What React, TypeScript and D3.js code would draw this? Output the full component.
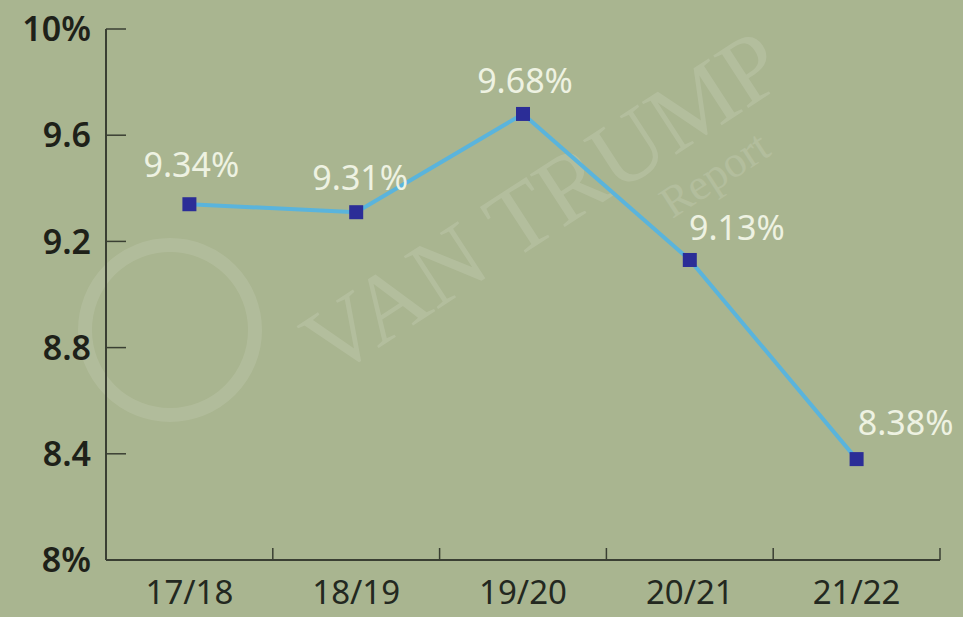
import * as d3 from 'd3';
import React, { useEffect, useRef } from 'react';

const seasons = ['17/18', '18/19', '19/20', '20/21', '21/22'];
const values = [9.34, 9.31, 9.68, 9.13, 8.38];
const yTicks = [8, 8.4, 8.8, 9.2, 9.6, 10];
const yTickLabels = ['8%', '8.4', '8.8', '9.2', '9.6', '10%'];

const W = 963;
const H = 617;

const App = () => {
  const svgRef = useRef(null);

  useEffect(() => {
    document.body.style.margin = '0';
    const svg = d3.select(svgRef.current);
    svg.selectAll('*').remove();

    const x = d3.scaleBand().domain(seasons).range([106, 940]);
    const y = d3.scaleLinear().domain([8, 10]).range([560, 29]);

    svg.append('rect').attr('width', W).attr('height', H).attr('fill', '#a9b590');

    // faint watermark
    const wm = svg.append('g').attr('transform', 'translate(560,230) rotate(-33)').attr('opacity', 0.12);
    wm.append('text').attr('text-anchor', 'middle').attr('font-family', 'Liberation Serif')
      .attr('font-size', 96).attr('fill', '#ffffff').text('VAN TRUMP');
    wm.append('text').attr('x', 160).attr('y', 52).attr('text-anchor', 'middle')
      .attr('font-family', 'Liberation Serif').attr('font-size', 44).attr('fill', '#ffffff').text('Report');
    svg.append('circle').attr('cx', 170).attr('cy', 330).attr('r', 85)
      .attr('fill', 'none').attr('stroke', '#ffffff').attr('stroke-width', 14).attr('opacity', 0.1);

    // axes
    const axisColor = '#3a3f33';
    svg.append('line').attr('x1', 106).attr('x2', 106).attr('y1', y(10)).attr('y2', y(8))
      .attr('stroke', axisColor).attr('stroke-width', 2);
    svg.append('line').attr('x1', 106).attr('x2', 940).attr('y1', y(8)).attr('y2', y(8))
      .attr('stroke', axisColor).attr('stroke-width', 2);

    yTicks.forEach((t, i) => {
      svg.append('line').attr('x1', 106).attr('x2', 126).attr('y1', y(t)).attr('y2', y(t))
        .attr('stroke', axisColor).attr('stroke-width', 1.5);
      svg.append('text').attr('x', 91).attr('y', y(t)).attr('dy', '0.36em')
        .attr('text-anchor', 'end').attr('font-family', 'Noto Sans').attr('font-weight', 600)
        .attr('font-size', 34).attr('fill', '#1e2119').text(yTickLabels[i]);
    });

    const bounds = seasons.map((s) => x(s) as number).concat([940]);
    bounds.slice(1).forEach((bx) => {
      svg.append('line').attr('x1', bx).attr('x2', bx).attr('y1', y(8)).attr('y2', y(8) - 12)
        .attr('stroke', axisColor).attr('stroke-width', 1.5);
    });

    seasons.forEach((s) => {
      svg.append('text').attr('x', (x(s) as number) + x.bandwidth() / 2).attr('y', 604)
        .attr('text-anchor', 'middle').attr('font-family', 'Noto Sans').attr('font-size', 33)
        .attr('fill', '#232820').text(s);
    });

    const cx = (i: number) => (x(seasons[i]) as number) + x.bandwidth() / 2;
    const lineGen = d3.line<number>().x((d, i) => cx(i)).y((d) => y(d));
    svg.append('path').attr('d', lineGen(values)).attr('fill', 'none')
      .attr('stroke', '#5ab4dc').attr('stroke-width', 4);

    values.forEach((v, i) => {
      svg.append('rect').attr('x', cx(i) - 7).attr('y', y(v) - 7).attr('width', 14).attr('height', 14)
        .attr('fill', '#2b2d97');
    });

    // labels: above for rising/flat, above-right for falling segments
    const labelDx = [2, 4, 2, 47, 49];
    const labelDy = [-27, -22, -21, -20, -24];
    values.forEach((v, i) => {
      svg.append('text').attr('x', cx(i) + labelDx[i]).attr('y', y(v) + labelDy[i])
        .attr('text-anchor', 'middle').attr('font-family', 'Noto Sans').attr('font-size', 34)
        .attr('fill', '#eef2e2').text(`${v.toFixed(2)}%`);
    });
  }, []);

  return <svg ref={svgRef} width={W} height={H} style={{ display: 'block' }} />;
};

export default App;
